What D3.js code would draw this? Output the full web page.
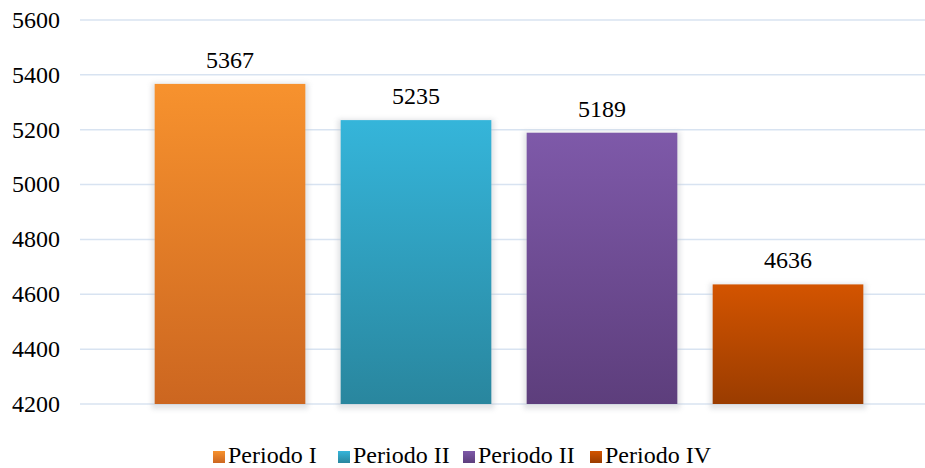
<!DOCTYPE html>
<html>
<head>
<meta charset="utf-8">
<script src="https://cdn.jsdelivr.net/npm/d3@7"></script>
<style>
  body { margin: 0; background: #fff; }
</style>
</head>
<body>
<div id="chart"></div>
<script>
const categories = ["Periodo I", "Periodo II", "Periodo II ", "Periodo IV"];
const values = [5367, 5235, 5189, 4636];
const yTicks = [4200, 4400, 4600, 4800, 5000, 5200, 5400, 5600];
const colorsTop = ["#F7922E", "#35B5DA", "#7E59A9", "#D35400"];
const colorsBottom = ["#CC6620", "#29869E", "#5D3E7C", "#9A3C00"];

const width = 925;
const height = 468;
const serif = '"Liberation Serif"';

const svg = d3.select("#chart")
  .append("svg")
  .attr("width", width)
  .attr("height", height)
  .style("display", "block");

const x = d3.scaleBand()
  .domain(categories)
  .range([137, 881])
  .paddingInner(0.19)
  .paddingOuter(0.095);

const y = d3.scaleLinear()
  .domain([4200, 5600])
  .range([404, 20]);

const defs = svg.append("defs");
categories.forEach((c, i) => {
  const g = defs.append("linearGradient")
    .attr("id", "grad" + i)
    .attr("x1", 0).attr("y1", 0).attr("x2", 0).attr("y2", 1);
  g.append("stop").attr("offset", "0%").attr("stop-color", colorsTop[i]);
  g.append("stop").attr("offset", "100%").attr("stop-color", colorsBottom[i]);
});
const blur = defs.append("filter").attr("id", "shadow")
  .attr("x", "-10%").attr("y", "-10%").attr("width", "120%").attr("height", "120%");
blur.append("feGaussianBlur").attr("stdDeviation", 2.5);

// gridlines
svg.append("g")
  .selectAll("line")
  .data(yTicks)
  .join("line")
  .attr("x1", 80)
  .attr("x2", 925)
  .attr("y1", d => y(d))
  .attr("y2", d => y(d))
  .attr("stroke", "#D8E3F1")
  .attr("stroke-width", 1.5);

// y labels
svg.append("g")
  .selectAll("text")
  .data(yTicks)
  .join("text")
  .attr("x", 60)
  .attr("y", d => y(d))
  .attr("dy", "0.33em")
  .attr("text-anchor", "end")
  .style("font-family", serif)
  .style("font-size", "24px")
  .attr("fill", "#000")
  .text(d => d);

// bar shadows
svg.append("g")
  .selectAll("rect")
  .data(values)
  .join("rect")
  .attr("x", (d, i) => x(categories[i]) - 3)
  .attr("y", d => y(d) - 1)
  .attr("width", x.bandwidth() + 6)
  .attr("height", d => y(4200) - y(d) + 6)
  .attr("fill", "#BFC3C8")
  .attr("opacity", 0.45)
  .attr("filter", "url(#shadow)");

// bars
svg.append("g")
  .selectAll("rect")
  .data(values)
  .join("rect")
  .attr("x", (d, i) => x(categories[i]))
  .attr("y", d => y(d))
  .attr("width", x.bandwidth())
  .attr("height", d => y(4200) - y(d))
  .attr("fill", (d, i) => `url(#grad${i})`);

// value labels
svg.append("g")
  .selectAll("text")
  .data(values)
  .join("text")
  .attr("x", (d, i) => x(categories[i]) + x.bandwidth() / 2)
  .attr("y", d => y(d) - 16)
  .attr("text-anchor", "middle")
  .style("font-family", serif)
  .style("font-size", "24px")
  .attr("fill", "#000")
  .text(d => d);

// legend
const legendX = [213, 338, 463, 590];
const legend = svg.append("g");
categories.forEach((c, i) => {
  const row = legend.append("g")
    .attr("transform", `translate(${legendX[i]}, 451)`);
  row.append("rect")
    .attr("width", 12)
    .attr("height", 12)
    .attr("fill", `url(#grad${i})`);
  row.append("text")
    .attr("x", 15)
    .attr("y", 12)
    .style("font-family", serif)
    .style("font-size", "24px")
    .attr("fill", "#000")
    .text(c.trim());
});
</script>
</body>
</html>
